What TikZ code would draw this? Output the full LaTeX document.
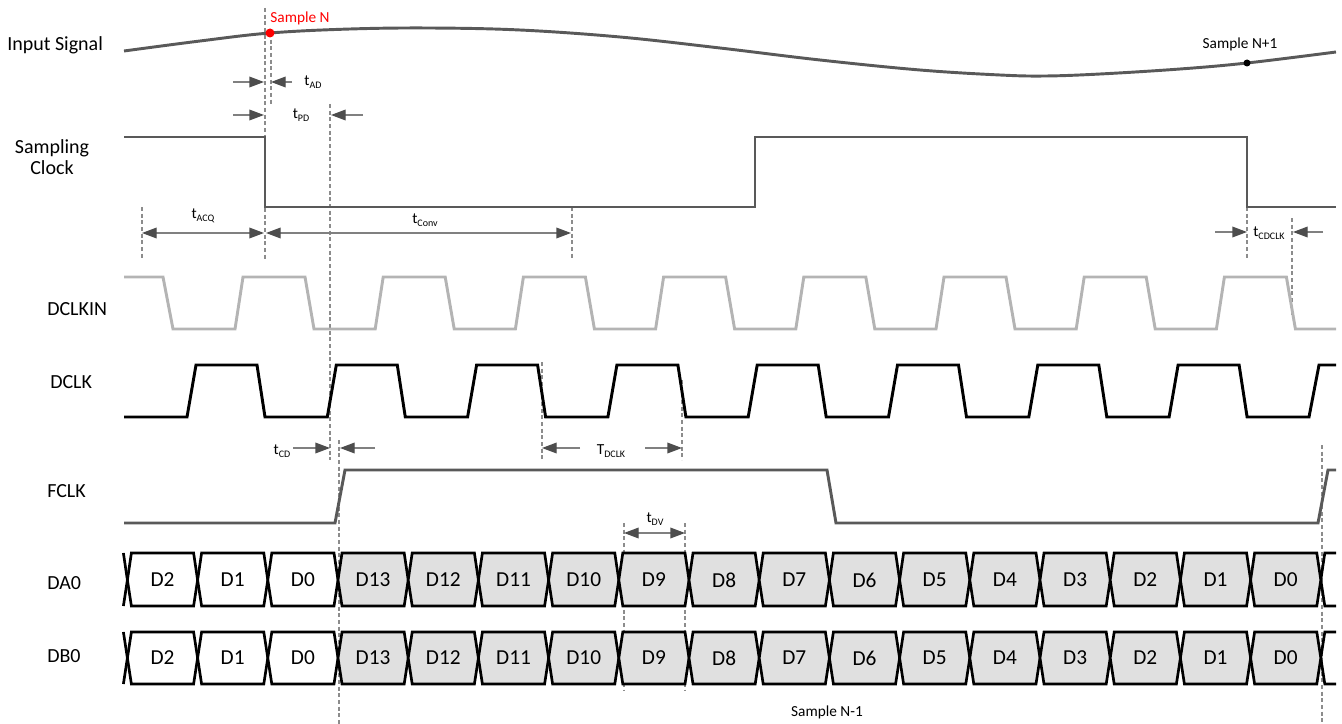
\documentclass[tikz,border=0pt]{standalone}
\usepackage{fontspec}
\setmainfont{Carlito}
\usetikzlibrary{arrows.meta}
\definecolor{sig}{HTML}{595959}
\definecolor{clkin}{HTML}{B4B4B4}
\definecolor{guidec}{HTML}{8C8C8C}
\definecolor{arrc}{HTML}{808080}
\definecolor{headc}{HTML}{4D4D4D}
\definecolor{busfill}{HTML}{E0E0E0}
\newcommand\tlab[2]{#1\raisebox{-0.45ex}{\fontsize{7.5}{8}\selectfont #2}}
\tikzset{
  wave/.style={line width=2.2pt, line join=miter},
  sigline/.style={wave, draw=sig},
  clkinline/.style={wave, draw=clkin},
  clkline/.style={wave, draw=black},
  guide/.style={draw=guidec, line width=0.8pt, dash pattern=on 3pt off 2pt},
  tip/.tip={Triangle[length=11pt,width=8pt,color=headc]},
  meas/.style={draw=arrc, line width=1pt, -tip},
  dmeas/.style={draw=arrc, line width=1pt, tip-tip},
  lab/.style={font=\fontsize{15}{16}\selectfont, anchor=west, inner sep=0pt},
  small/.style={font=\fontsize{11.5}{13}\selectfont, inner sep=0pt},
  cell/.style={line width=2pt, draw=black, line join=miter},
  celltxt/.style={font=\fontsize{16}{18}\selectfont, inner sep=0pt},
}
\begin{document}
\begin{tikzpicture}[x=0.75pt, y=-0.75pt]
\useasboundingbox (0,0) rectangle (1342,724);

% ---------- labels ----------
\node[lab] (lIn) at (7,45) {Input Signal};
\node[font=\fontsize{15}{15.75}\selectfont, align=center, inner sep=0pt] (lSC) at (52,157) {Sampling\\Clock};
\node[lab] (lDCLKIN) at (47,309) {DCLKIN};
\node[lab] (lDCLK) at (50,382) {DCLK};
\node[lab] (lFCLK) at (47,491) {FCLK};
\node[lab] (lDA) at (47,583) {DA0};
\node[lab] (lDB) at (47,656) {DB0};

% ---------- guide lines ----------
\draw[guide] (265,8) -- (265,260);
\draw[guide] (271,33) -- (271,104);
\draw[guide] (330,104) -- (330,460);
\draw[guide] (142,207) -- (142,260);
\draw[guide] (572,207) -- (572,260);
\draw[guide] (1247,207) -- (1247,258);
\draw[guide] (1292,218) -- (1292,315);
\draw[guide] (542,362) -- (542,460);
\draw[guide] (682,380) -- (682,460);
\draw[guide] (339,440) -- (339,724);
\draw[guide] (1322,445) -- (1322,724);
\draw[guide] (624,523) -- (624,690);
\draw[guide] (685,523) -- (685,690);

% ---------- input signal ----------
\draw[sigline] plot[smooth, tension=0.6] coordinates {(124,51) (200,41) (270,33) (350,29) (430,28) (520,30) (620,37) (720,48) (820,60) (920,70) (1000,75) (1045,76) (1100,74) (1180,69) (1247,63) (1336,52)};
\fill[red] (270,33) circle[radius=4.5];
\fill[black] (1247,63) circle[radius=3.5];
\node[small, text=red] (sN) at (300,18) {Sample N};
\node[small] (sN1) at (1240,44) {Sample N+1};

% ---------- sampling clock ----------
\draw[sigline] (124,137) -| (265,207) -| (755,137) -| (1247,207) -- (1336,207);

% ---------- DCLKIN ----------
\draw[clkinline] (124,277) -- (163,277) -- (173,329)
  \foreach \k in {0,...,7}{
    -- ({235+140.2*\k},329) -- ({243+140.2*\k},277) -- ({305+140.2*\k},277) -- ({314+140.2*\k},329)
  } -- (1336,329);

% ---------- DCLK ----------
\draw[clkline] (124,417) -- (187,417)
  \foreach \k in {0,...,7}{
    -- ({187+140.3*\k},417) -- ({196+140.3*\k},365) -- ({257+140.3*\k},365) -- ({265+140.3*\k},417)
  } -- (1309,417) -- (1319,365) -- (1336,365);

% ---------- FCLK ----------
\draw[sigline] (124,523) -- (335,523) -- (345,470) -- (827,470) -- (836,523) -- (1318,523) -- (1328,470) -- (1336,470);

% ---------- buses ----------
\foreach \yt/\ym/\yb/\nm in {553/580/606/da, 632/658/684/db}{
  \draw[cell] (123.4,\yt) -- (127.4,\ym) -- (123.4,\yb);
  \draw[cell] (1336,\yt) -- (1324.8,\yt) -- (1320.8,\ym) -- (1324.8,\yb) -- (1336,\yb);
  \foreach \lbl [count=\i from -3] in {D2,D1,D0,D13,D12,D11,D10,D9,D8,D7,D6,D5,D4,D3,D2,D1,D0}{
    \pgfmathsetmacro\xa{338+70.2*\i}
    \pgfmathsetmacro\xb{338+70.2*(\i+1)}
    \ifnum\i<0 \def\fc{white}\else\def\fc{busfill}\fi
    \draw[cell, fill=\fc] (\xa,\ym) -- (\xa+4,\yt) -- (\xb-4,\yt) -- (\xb,\ym) -- (\xb-4,\yb) -- (\xa+4,\yb) -- cycle;
    \node[celltxt] (\nm\i) at ({(\xa+\xb)/2},\ym) {\lbl};
  }
}

% ---------- measurements ----------
\coordinate (adL1) at (233,82); \coordinate (adL2) at (264,82);
\coordinate (adR1) at (292,82); \coordinate (adR2) at (271,82);
\draw[meas] (adL1) -- (adL2);
\draw[meas] (adR1) -- (adR2);
\node[small] (tAD) at (313,82) {\tlab{t}{AD}};

\coordinate (pdL1) at (233,115); \coordinate (pdL2) at (264,115);
\coordinate (pdR1) at (363,115); \coordinate (pdR2) at (331,115);
\draw[meas] (pdL1) -- (pdL2);
\draw[meas] (pdR1) -- (pdR2);
\node[small] (tPD) at (301,115) {\tlab{t}{PD}};

\coordinate (acqA) at (142,233); \coordinate (acqB) at (264,233);
\draw[dmeas] (acqA) -- (acqB);
\node[small] (tACQ) at (203,216) {\tlab{t}{ACQ}};

\coordinate (convA) at (266,233); \coordinate (convB) at (571,233);
\draw[dmeas] (convA) -- (convB);
\node[small] (tConv) at (425,220) {\tlab{t}{Conv}};

\coordinate (cdcL1) at (1215,232); \coordinate (cdcL2) at (1247,232);
\coordinate (cdcR1) at (1323,232); \coordinate (cdcR2) at (1293,232);
\draw[meas] (cdcL1) -- (cdcL2);
\draw[meas] (cdcR1) -- (cdcR2);
\node[small] (tCDCLK) at (1269,233) {\tlab{t}{CDCLK}};

\coordinate (cdL1) at (293,448); \coordinate (cdL2) at (330,448);
\coordinate (cdR1) at (375,448); \coordinate (cdR2) at (340,448);
\draw[meas] (cdL1) -- (cdL2);
\draw[meas] (cdR1) -- (cdR2);
\node[small] (tCD) at (282,451) {\tlab{t}{CD}};

\coordinate (dclkL1) at (580,448); \coordinate (dclkL2) at (542,448);
\coordinate (dclkR1) at (645,448); \coordinate (dclkR2) at (682,448);
\draw[meas] (dclkL1) -- (dclkL2);
\draw[meas] (dclkR1) -- (dclkR2);
\node[small] (TDCLK) at (611,451) {\tlab{T}{DCLK}};

\coordinate (dvA) at (624,533); \coordinate (dvB) at (685,533);
\draw[dmeas] (dvA) -- (dvB);
\node[small] (tDV) at (655,519) {\tlab{t}{DV}};

\node[small] (sNm1) at (827,712) {Sample N-1};
\end{tikzpicture}
\end{document}
